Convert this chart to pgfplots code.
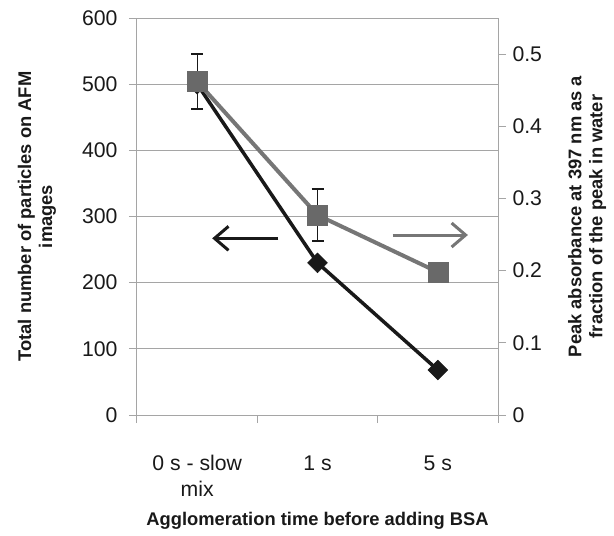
\documentclass[border=0pt]{standalone}
\usepackage{fontspec}
\setmainfont{Liberation Sans}
\usepackage{pgfplots}
\pgfplotsset{compat=1.18}
\usetikzlibrary{arrows.meta}

\definecolor{framegray}{RGB}{165,165,165}
\definecolor{squaregray}{RGB}{105,105,105}
\definecolor{linegray}{RGB}{118,118,118}
\definecolor{ink}{RGB}{25,25,25}

\pgfplotsset{
  common/.style={
    at={(0,0)}, anchor=south west,
    scale only axis, width=361bp, height=397bp,
    xmin=-0.5, xmax=2.5,
    tick align=outside,
    tick style={framegray, line width=1bp},
    major tick length=8bp, minor tick length=8bp,
    axis line style={framegray, line width=1bp},
    ticklabel style={font=\fontsize{21.3}{25.5}\selectfont, text=ink},
    label style={font=\fontsize{18.4}{21}\selectfont\bfseries, text=ink, align=center},
    /pgf/number format/assume math mode=true,
  },
}

\begin{document}
\begin{tikzpicture}
\path[use as bounding box] (-137bp,-121bp) rectangle (477bp,415bp);

% Left axis: particle counts from AFM images
\begin{axis}[
  common,
  ymin=0, ymax=600,
  ytick={0,100,...,600},
  ytick pos=left, xtick pos=left,
  y tick label style={xshift=-8bp},
  xtick={0,1,2},
  xticklabels={{0 s - slow\\mix},{1 s},{5 s}},
  major x tick style={draw=none},
  minor xtick={-0.5,0.5,1.5,2.5},
  x tick label style={align=center, yshift=-29bp},
  ymajorgrids, grid style={framegray, line width=1bp},
  xlabel={Agglomeration time before adding BSA},
  xlabel style={at={(axis description cs:0.5,-0.267)}, anchor=center},
  ylabel={Total number of particles on AFM\\images},
  ylabel style={at={(axis description cs:-0.277,0.5)}, anchor=center},
  clip=false,
]
\addplot[ink, line width=3.5bp, mark=square*, mark size=7bp,
  mark options={rotate=45, fill=ink, draw=ink, line width=0.5bp}]
  coordinates {(0,500) (1,230) (2,68)};
% direction arrows pointing to the axis each series belongs to
\addplot[ink, line width=3bp, -{Straight Barb[length=14bp,width=24bp,line width=3bp]}]
  coordinates {(0.675,267) (0.125,267)};
\addplot[linegray, line width=3bp, -{Straight Barb[length=14bp,width=24bp,line width=3bp]}]
  coordinates {(1.625,272) (2.25,272)};
\end{axis}

% Right axis: relative peak absorbance at 397 nm
\begin{axis}[
  common,
  ymin=0, ymax=0.55,
  axis y line*=right, axis x line=none,
  ytick={0,0.1,...,0.5},
  yticklabel style={/pgf/number format/fixed, /pgf/number format/precision=1, xshift=3bp},
  ylabel={Peak absorbance at 397 nm as a\\fraction of the peak in water},
  ylabel style={at={(axis description cs:1.247,0.5)}, anchor=center, rotate=0},
  clip=false,
]
\addplot[linegray, line width=4bp, mark=square*, mark size=10bp,
  mark options={fill=squaregray, draw=squaregray, line width=0.5bp},
  error bars/.cd, y dir=both, y explicit,
  error bar style={ink, line width=1.3bp},
  error mark options={rotate=90, mark size=6bp, ink, line width=1.3bp}]
  coordinates {(0,0.462) +- (0,0.038) (1,0.277) +- (0,0.036) (2,0.198) +- (0,0)};
\end{axis}
\end{tikzpicture}
\end{document}
